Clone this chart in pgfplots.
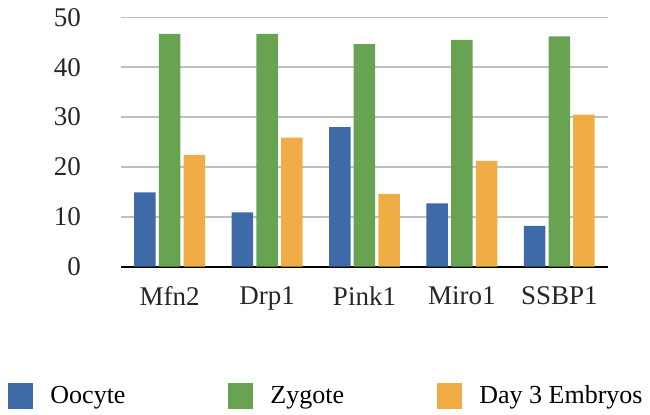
\documentclass[border=0pt]{standalone}
\usepackage{fontspec}
\setmainfont{Liberation Serif}
\usepackage{pgfplots}
\pgfplotsset{compat=1.18}
\definecolor{oocyte}{HTML}{3E6BA8}
\definecolor{zygote}{HTML}{68A352}
\definecolor{embryo}{HTML}{F1AD45}
\definecolor{gridgray}{HTML}{BFBFBF}

\begin{document}
\begin{tikzpicture}
\path[use as bounding box] (-60.5pt,-73.65pt) rectangle (264.5pt,133.35pt);
\begin{axis}[
  at={(0,0)}, anchor=south west,
  width=243.5pt, height=124.7pt, scale only axis,
  ybar=1.6pt, bar width=10.75pt,
  xmin=-0.5, xmax=4.5, ymin=0, ymax=50,
  xtick=data, xticklabels={Mfn2,Drp1,Pink1,Miro1,SSBP1},
  ytick={0,10,20,30,40,50},
  major tick length=0pt,
  ymajorgrids, grid style={gridgray, line width=0.75pt},
  axis x line*=bottom, axis y line*=left,
  x axis line style={black, line width=1pt},
  y axis line style={draw=none},
  /pgf/number format/assume math mode=true,
  tick label style={font=\fontsize{13.5}{16}\selectfont, text=black!85},
  yticklabel style={xshift=-16.5pt},
  xticklabel style={yshift=-6.5pt},
  legend columns=3,
  legend style={at={(0.42,-0.52)}, anchor=center, draw=none, fill=none,
    font=\rmfamily\fontsize{13}{15}\selectfont,
    nodes={inner sep=0pt},
    /tikz/every odd column/.append style={column sep=8.5pt},
    /tikz/every even column/.append style={column sep=0pt}},
  legend image code/.code={\fill[#1] (0pt,-6.5pt) rectangle (12.5pt,6.5pt);},
]
\addplot[fill=oocyte, draw=none] coordinates {(0,14.9) (1,10.9) (2,28.0) (3,12.7) (4,8.2)};
\addplot[fill=zygote, draw=none] coordinates {(0,46.7) (1,46.7) (2,44.6) (3,45.5) (4,46.2)};
\addplot[fill=embryo, draw=none] coordinates {(0,22.4) (1,25.9) (2,14.6) (3,21.2) (4,30.5)};
\addlegendentry{\makebox[89pt][l]{\rmfamily Oocyte}}
\addlegendentry{\makebox[83.5pt][l]{\rmfamily Zygote}}
\addlegendentry{\rmfamily Day 3 Embryos}
\end{axis}
\end{tikzpicture}
\end{document}
